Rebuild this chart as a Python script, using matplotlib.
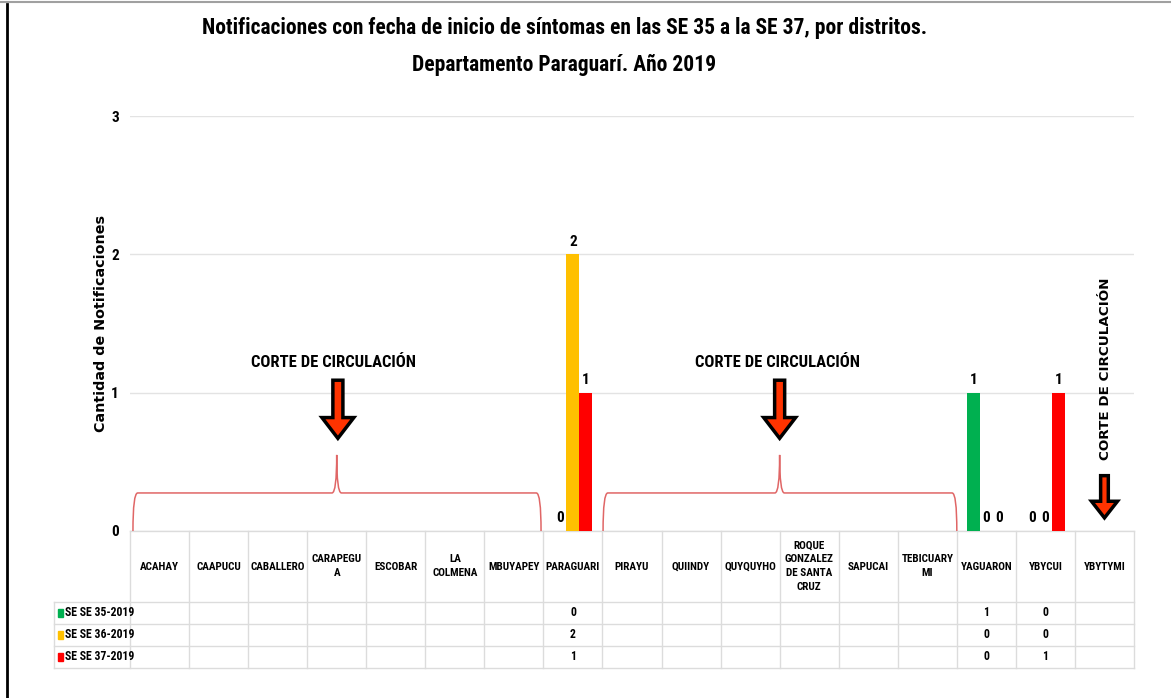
import numpy as np
import matplotlib
matplotlib.use('Agg')
from matplotlib import pyplot as plt
from matplotlib.path import Path
from matplotlib.patches import PathPatch, FancyArrow, Rectangle
from matplotlib.lines import Line2D

# data
districts = ['ACAHAY', 'CAAPUCU', 'CABALLERO', 'CARAPEGU\nA', 'ESCOBAR', 'LA\nCOLMENA',
             'MBUYAPEY', 'PARAGUARI', 'PIRAYU', 'QUIINDY', 'QUYQUYHO',
             'ROQUE\nGONZALEZ\nDE SANTA\nCRUZ', 'SAPUCAI', 'TEBICUARY\nMI',
             'YAGUARON', 'YBYCUI', 'YBYTYMI']
nan = np.nan
se35 = [nan, nan, nan, nan, nan, nan, nan, 0, nan, nan, nan, nan, nan, nan, 1, 0, nan]
se36 = [nan, nan, nan, nan, nan, nan, nan, 2, nan, nan, nan, nan, nan, nan, 0, 0, nan]
se37 = [nan, nan, nan, nan, nan, nan, nan, 1, nan, nan, nan, nan, nan, nan, 0, 1, nan]
series_names = ['SE SE 35-2019', 'SE SE 36-2019', 'SE SE 37-2019']
colors = ['#00B050', '#FFC000', '#FF0000']

title = ('Notificaciones con fecha de inicio de síntomas en las SE 35 a la SE 37, por distritos.\n'
         'Departamento Paraguarí. Año 2019')
ylabel = 'Cantidad de Notificaciones'
note = 'CORTE DE CIRCULACIÓN'

narrow = ['Roboto Condensed', 'Carlito', 'DejaVu Sans']

fig = plt.figure(figsize=(11.71, 6.98), dpi=100)
ax = fig.add_axes([130/1171, 1 - 531/698, 1004/1171, 415/698])

x = np.arange(len(districts))
w = 0.22
all_series = [se35, se36, se37]
for k, (vals, c) in enumerate(zip(all_series, colors)):
    v = np.array(vals, dtype=float)
    bars = ax.bar(x + (k - 1) * w, np.nan_to_num(v), width=w, color=c, zorder=3)
    labels = ['' if np.isnan(a) else f'{a:.0f}' for a in v]
    ax.bar_label(bars, labels=labels, padding=4, fontsize=11, fontweight='bold',
                 family=narrow)

ax.set_xlim(-0.5, len(districts) - 0.5)
ax.set_ylim(0, 3)
ax.set_yticks([0, 1, 2, 3])
ax.set_xticks([])
ax.grid(axis='y', color='#e3e3e3', lw=1, zorder=0)
for s in ax.spines.values():
    s.set_visible(False)
ax.tick_params(axis='y', length=0, pad=8)
for t in ax.get_yticklabels():
    t.set_fontweight('bold')
    t.set_fontsize(11)
    t.set_family(narrow)
ax.set_ylabel(ylabel, fontsize=10.3, fontweight='bold')
ax.yaxis.set_label_coords(-0.022, 0.5)

fig.text(0.482, 0.975, title, ha='center', va='top', fontsize=15.5, fontweight='bold',
         family=narrow, linespacing=1.85)

# data table below the axes (x in data, y in axes fraction)
tr = ax.get_xaxis_transform()
hdr = -71 / 415
row_h = 22 / 415
x_left = -0.5
x_leg = -1.787
x_right = len(districts) - 0.5
grid_c = '#dcdcdc'
y_bottom = hdr - 3 * row_h
ax.add_line(Line2D([x_left, x_right], [0, 0], transform=tr, color=grid_c, lw=1, clip_on=False))
for r in range(4):
    yy = hdr - r * row_h
    ax.add_line(Line2D([x_leg, x_right], [yy, yy], transform=tr, color=grid_c, lw=1, clip_on=False))
for k in range(len(districts) + 1):
    xx = x_left + k
    ax.add_line(Line2D([xx, xx], [0, y_bottom], transform=tr, color=grid_c, lw=1, clip_on=False))
ax.add_line(Line2D([x_leg, x_leg], [hdr, y_bottom], transform=tr, color=grid_c, lw=1, clip_on=False))

for i, name in enumerate(districts):
    ax.text(i, hdr / 2, name, transform=tr, ha='center', va='center', fontsize=8,
            fontweight='bold', family=narrow, linespacing=1.5)
for r, (vals, c, nm) in enumerate(zip(all_series, colors, series_names)):
    yc = hdr - (r + 0.5) * row_h
    for i, a in enumerate(vals):
        if not np.isnan(a):
            ax.text(i, yc, f'{a:.0f}', transform=tr, ha='center', va='center',
                    fontsize=8.5, fontweight='bold', family=narrow)
    ax.add_patch(Rectangle((x_leg + 0.07, yc - 0.009), 0.085, 0.018, transform=tr,
                           color=c, clip_on=False))
    ax.text(x_leg + 0.19, yc, nm, transform=tr, ha='left', va='center', fontsize=8.5,
            fontweight='bold', family=narrow)


# braces, arrows, notes
def brace(x0, x1, xm, y_line=0.275, y_peak=0.55, y_end=0.0, dx=0.08):
    verts = [(x0, y_end), (x0, y_line), (x0 + dx, y_line),
             (xm - dx, y_line),
             (xm, y_line), (xm, y_peak),
             (xm, y_line), (xm + dx, y_line),
             (x1 - dx, y_line),
             (x1, y_line), (x1, y_end)]
    codes = [Path.MOVETO, Path.CURVE3, Path.CURVE3, Path.LINETO,
             Path.CURVE3, Path.CURVE3, Path.CURVE3, Path.CURVE3,
             Path.LINETO, Path.CURVE3, Path.CURVE3]
    ax.add_patch(PathPatch(Path(verts, codes), fc='none', ec='#e06666', lw=1.1, zorder=4))


def down_arrow(xc, y_top, y_tip, shaft, head, head_len):
    ax.add_patch(FancyArrow(xc, y_top, 0, y_tip - y_top, width=shaft, head_width=head,
                            head_length=head_len, length_includes_head=True,
                            fc='#FF3300', ec='black', lw=2.5, zorder=5))


brace(-0.45, 6.46, 3.0)
brace(7.51, 13.5, 10.5)
down_arrow(3.02, 1.09, 0.67, 0.17, 0.54, 0.15)
down_arrow(10.5, 1.09, 0.67, 0.17, 0.54, 0.15)
down_arrow(16.0, 0.40, 0.095, 0.13, 0.44, 0.12)
ax.text(2.94, 1.215, note, ha='center', va='center', fontsize=12, fontweight='bold', family=narrow)
ax.text(10.46, 1.215, note, ha='center', va='center', fontsize=12, fontweight='bold', family=narrow)
ax.text(16.02, 1.17, note, ha='center', va='center', rotation=90, fontsize=9.7, fontweight='bold')

# frame of the picture
fig.add_artist(Line2D([7/1171, 7/1171], [0, 1 - 4/698], color='black', lw=2))
fig.add_artist(Line2D([0, 1], [1 - 2/698, 1 - 2/698], color='#a0a0a0', lw=1.5))

fig.savefig('out.png', dpi=100)
